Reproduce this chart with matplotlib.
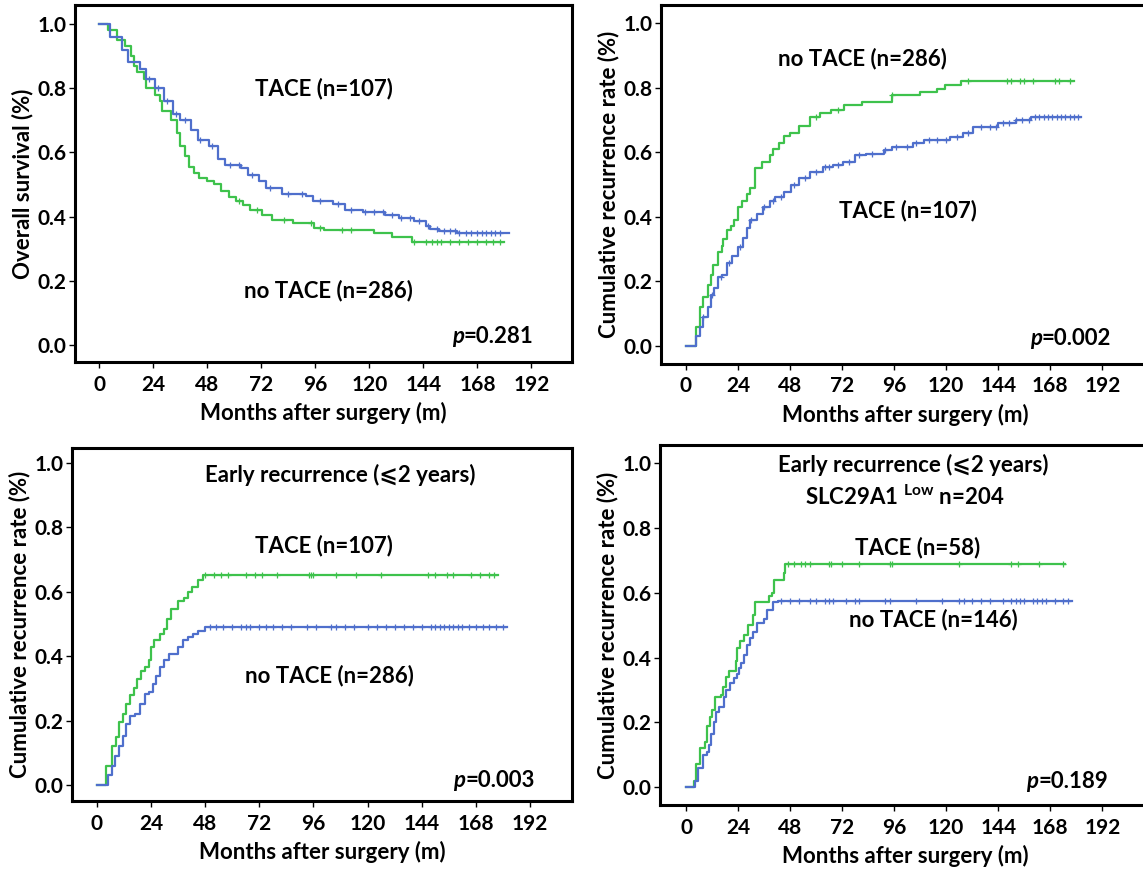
import numpy as np
import matplotlib
matplotlib.use("Agg")
import matplotlib.pyplot as plt

plt.rcParams['font.family'] = ['Lato', 'DejaVu Sans']
plt.rcParams['font.weight'] = 'bold'
plt.rcParams['mathtext.fontset'] = 'custom'
plt.rcParams['mathtext.rm'] = 'Lato'
plt.rcParams['mathtext.bf'] = 'Lato:bold'

BLUE = '#4f6fcc'
GREEN = '#3ec24c'

# ---- panel A: overall survival ----
os_blue_t = [0, 5, 10, 13, 18, 21, 25, 29, 33, 36, 41, 44, 49, 53, 56, 63, 66, 71, 74, 81, 92, 95,
             104, 109, 117, 127, 133, 140, 145, 147, 151, 159, 182]
os_blue_s = [1.0, 0.96, 0.92, 0.88, 0.86, 0.83, 0.80, 0.76, 0.72, 0.70, 0.67, 0.64, 0.62, 0.58, 0.56,
             0.55, 0.53, 0.51, 0.49, 0.47, 0.465, 0.45, 0.44, 0.42, 0.415, 0.405, 0.395, 0.385, 0.37,
             0.36, 0.355, 0.35, 0.35]
os_blue_cens = [22, 26, 30, 34, 38, 45, 50, 58, 62, 68, 76, 84, 90, 98, 106, 112, 118, 122, 126, 130,
                134, 138, 142, 146, 150, 153, 156, 158, 160, 163, 165, 168, 170, 172, 174, 176, 178]
os_green_t = [0, 4, 8, 11.5, 14, 15.6, 17, 20, 21, 25, 27, 28, 32, 34.6, 36, 38, 40, 42, 44.5, 48, 51,
              54, 57.7, 61, 64, 67, 72.5, 77, 86, 95.5, 100, 122, 130, 139, 180]
os_green_s = [1.0, 0.98, 0.95, 0.93, 0.90, 0.87, 0.85, 0.83, 0.80, 0.78, 0.76, 0.73, 0.70, 0.66, 0.62,
              0.59, 0.555, 0.535, 0.52, 0.51, 0.50, 0.48, 0.46, 0.45, 0.436, 0.42, 0.405, 0.39, 0.38,
              0.364, 0.358, 0.35, 0.337, 0.322, 0.322]
os_green_cens = [62, 70, 82, 94, 98, 108, 112, 140, 145, 148, 150, 152, 156, 160, 164, 168, 172, 175, 178]

# ---- panel B: cumulative recurrence ----
rec_green_t = [0, 4.5, 6.6, 8, 10, 11.5, 12.7, 14.8, 16.5, 17.3, 19, 20.6, 22, 24, 26, 28, 29.7, 32, 35,
               38.7, 40, 43, 45, 48, 52, 57, 62, 67, 73, 81, 95, 108, 116, 119.5, 127, 179]
rec_green_s = [0, 0.06, 0.12, 0.15, 0.19, 0.22, 0.25, 0.29, 0.31, 0.33, 0.36, 0.37, 0.39, 0.43, 0.45,
               0.47, 0.49, 0.55, 0.57, 0.59, 0.61, 0.63, 0.65, 0.66, 0.68, 0.71, 0.72, 0.73, 0.745, 0.755,
               0.776, 0.786, 0.797, 0.807, 0.82, 0.82]
rec_green_cens = [60, 70, 95, 130, 148, 150, 154, 156, 160, 170, 172, 177]
rec_blue_t = [0, 4.5, 5, 6.6, 8, 10, 11.5, 13, 14.8, 16.5, 19, 21.4, 24, 26.4, 28, 29.7, 33, 35.4, 38.7,
              41, 45, 48.6, 52, 57, 63, 68, 72.5, 78, 83, 91.5, 95, 104.6, 109.6, 122, 127.7, 132.6, 144,
              152, 159, 182]
rec_blue_s = [0, 0.03, 0.03, 0.06, 0.09, 0.12, 0.158, 0.18, 0.214, 0.22, 0.256, 0.28, 0.307, 0.333, 0.364,
              0.39, 0.41, 0.43, 0.45, 0.46, 0.477, 0.50, 0.52, 0.54, 0.555, 0.56, 0.57, 0.59, 0.596,
              0.606, 0.617, 0.627, 0.637, 0.647, 0.658, 0.678, 0.689, 0.70, 0.709, 0.709]
rec_blue_cens = [8, 12, 16, 20, 25, 30, 36, 40, 44, 50, 55, 60, 64, 66, 70, 75, 80, 86, 92, 97, 102, 106,
                 112, 116, 120, 125, 130, 136, 140, 143, 146, 149, 152, 155, 158, 161, 163, 165, 167,
                 169, 171, 173, 175, 177, 179, 181]

# ---- panel C: early recurrence ----
er_green_t = [0, 4, 6.6, 8.7, 10, 11.5, 13, 14.8, 16.5, 18, 19.8, 21.4, 23, 24, 25.5, 28, 29.6, 31.3,
              33, 36, 38.7, 40.4, 42, 45, 47, 178]
er_green_s = [0, 0.06, 0.12, 0.15, 0.195, 0.22, 0.25, 0.28, 0.30, 0.33, 0.355, 0.366, 0.387, 0.43,
              0.45, 0.47, 0.485, 0.517, 0.548, 0.57, 0.58, 0.60, 0.615, 0.636, 0.653, 0.653]
er_green_cens = [48, 52, 55, 58, 66, 70, 73, 80, 94, 95, 96, 106, 115, 126, 147, 150, 155, 158, 166,
                 170, 174, 176]
er_blue_t = [0, 5, 6.6, 8.2, 10, 11.5, 13, 14.8, 17, 19, 21.4, 23, 24.7, 26.4, 28, 29.6, 32, 36, 38,
             40.4, 42.8, 45, 47.8, 182]
er_blue_s = [0, 0.03, 0.06, 0.09, 0.12, 0.153, 0.19, 0.215, 0.22, 0.25, 0.283, 0.29, 0.314, 0.34,
             0.366, 0.387, 0.408, 0.43, 0.45, 0.46, 0.47, 0.478, 0.49, 0.49]
er_blue_cens = [50, 53, 56, 60, 64, 66, 68, 72, 75, 78, 82, 86, 93, 97, 104, 106, 110, 114, 120, 124,
                128, 132, 136, 140, 144, 148, 150, 152, 154, 156, 158, 160, 162, 165, 168, 171, 174,
                177, 180]

# ---- panel D: early recurrence, SLC29A1 low ----
sl_green_t = [0, 3.8, 4.6, 6.3, 8.7, 9.9, 11.2, 12, 13.3, 16, 17, 18.6, 20, 23, 23.5, 25, 26.8, 28.5,
              31, 31.7, 38.3, 39.6, 40.8, 45, 45.7, 175]
sl_green_s = [0, 0.02, 0.07, 0.12, 0.14, 0.19, 0.217, 0.238, 0.279, 0.285, 0.31, 0.34, 0.36, 0.39,
              0.43, 0.45, 0.47, 0.50, 0.53, 0.57, 0.59, 0.60, 0.64, 0.66, 0.69, 0.69]
sl_green_cens = [47, 50, 53, 55, 57, 66, 67, 72, 80, 94, 95, 126, 150, 153, 163, 174]
sl_blue_t = [0, 4, 5.4, 7.9, 9.5, 10.7, 11.7, 12.8, 14, 15.3, 17.4, 18.6, 20.2, 21.9, 23.5, 24.3, 25.2,
             26.8, 28, 29.3, 31, 32.6, 35.8, 37.5, 40, 42.4, 178]
sl_blue_s = [0, 0.02, 0.06, 0.098, 0.11, 0.13, 0.165, 0.20, 0.232, 0.248, 0.279, 0.30, 0.32, 0.336,
             0.35, 0.367, 0.382, 0.408, 0.44, 0.46, 0.48, 0.506, 0.52, 0.547, 0.57, 0.575, 0.575]
sl_blue_cens = [44, 48, 52, 57, 60, 64, 66, 68, 74, 78, 80, 92, 94, 106, 118, 126, 128, 132, 136, 140,
                146, 150, 152, 154, 156, 160, 162, 164, 166, 170, 174, 176]

xticks = [0, 24, 48, 72, 96, 120, 144, 168, 192]
yticks = [0.0, 0.2, 0.4, 0.6, 0.8, 1.0]

FS_TICK = 15
FS_LAB = 16
FS_TXT = 16

W, H = 1143, 869
fig = plt.figure(figsize=(W / 100, H / 100), dpi=100)


def make_ax(left, top, right, bottom, xlim, ylim):
    ax = fig.add_axes([left / W, 1 - bottom / H, (right - left) / W, (bottom - top) / H])
    ax.set_xlim(*xlim)
    ax.set_ylim(*ylim)
    for s in ax.spines.values():
        s.set_linewidth(2.2)
        s.set_color('black')
    ax.set_xticks(xticks)
    ax.set_yticks(yticks)
    ax.set_yticklabels([f"{v:.1f}" for v in yticks])
    ax.tick_params(direction='out', length=4, width=1, labelsize=FS_TICK)
    ax.tick_params(axis='x', pad=5)
    ax.tick_params(axis='y', pad=2)
    ax.set_xlabel('Months after surgery (m)', fontsize=FS_LAB, fontweight='bold', labelpad=5)
    return ax


def km(ax, t, s, cens, color):
    t = np.asarray(t, float)
    s = np.asarray(s, float)
    ax.step(t, s, where='post', color=color, lw=1.6)
    c = np.asarray(cens, float)
    idx = np.searchsorted(t, c, side='right') - 1
    ax.plot(c, s[idx], ls='none', marker='+', ms=5, mew=0.9, color=color)


def pval(ax, x, y, val):
    t = ax.text(x, y, '=' + val, ha='right', va='bottom', fontsize=FS_TXT, fontweight='bold')
    ax.annotate('p', xy=(0, 0), xycoords=t, ha='right', va='bottom', fontsize=FS_TXT,
                fontweight='bold', fontstyle='italic')


# A
ax1 = make_ax(75, 5, 572, 362, (-10.7, 210), (-0.053, 1.059))
km(ax1, os_green_t, os_green_s, os_green_cens, GREEN)
km(ax1, os_blue_t, os_blue_s, os_blue_cens, BLUE)
ax1.set_ylabel('Overall survival (%)', fontsize=FS_LAB, fontweight='bold', labelpad=3)
ax1.text(100, 0.80, 'TACE (n=107)', ha='center', va='center', fontsize=FS_TXT)
ax1.text(102, 0.17, 'no TACE (n=286)', ha='center', va='center', fontsize=FS_TXT)
pval(ax1, 193, -0.005, '0.281')

# B
ax2 = make_ax(661, 5, 1150, 364, (-11.5, 214), (-0.056, 1.056))
km(ax2, rec_green_t, rec_green_s, rec_green_cens, GREEN)
km(ax2, rec_blue_t, rec_blue_s, rec_blue_cens, BLUE)
ax2.set_ylabel('Cumulative recurrence rate (%)', fontsize=FS_LAB, fontweight='bold', labelpad=3)
ax2.text(81.5, 0.89, 'no TACE (n=286)', ha='center', va='center', fontsize=FS_TXT)
ax2.text(102.6, 0.42, 'TACE (n=107)', ha='center', va='center', fontsize=FS_TXT)
pval(ax2, 196, -0.01, '0.002')

# C
ax3 = make_ax(72, 448, 572, 801, (-11, 210.6), (-0.05, 1.047))
km(ax3, er_green_t, er_green_s, er_green_cens, GREEN)
km(ax3, er_blue_t, er_blue_s, er_blue_cens, BLUE)
ax3.set_ylabel('Cumulative recurrence rate (%)', fontsize=FS_LAB, fontweight='bold', labelpad=3)
ax3.text(108, 0.964, 'Early recurrence (\u2a7d2 years)', ha='center', va='center', fontsize=FS_TXT)
ax3.text(100.8, 0.745, 'TACE (n=107)', ha='center', va='center', fontsize=FS_TXT)
ax3.text(103, 0.34, 'no TACE (n=286)', ha='center', va='center', fontsize=FS_TXT)
pval(ax3, 194, -0.02, '0.003')

# D
ax4 = make_ax(660, 445, 1150, 805, (-12, 214), (-0.055, 1.056))
km(ax4, sl_green_t, sl_green_s, sl_green_cens, GREEN)
km(ax4, sl_blue_t, sl_blue_s, sl_blue_cens, BLUE)
ax4.set_ylabel('Cumulative recurrence rate (%)', fontsize=FS_LAB, fontweight='bold', labelpad=3)
ax4.text(105, 0.995, 'Early recurrence (\u2a7d2 years)', ha='center', va='center', fontsize=FS_TXT)
ax4.text(101, 0.895, r'SLC29A1 $^{\mathbf{Low}}$ n=204', ha='center', va='center', fontsize=FS_TXT)
ax4.text(107, 0.74, 'TACE (n=58)', ha='center', va='center', fontsize=FS_TXT)
ax4.text(114, 0.517, 'no TACE (n=146)', ha='center', va='center', fontsize=FS_TXT)
pval(ax4, 194.6, -0.015, '0.189')

fig.savefig('out.png', dpi=100)
